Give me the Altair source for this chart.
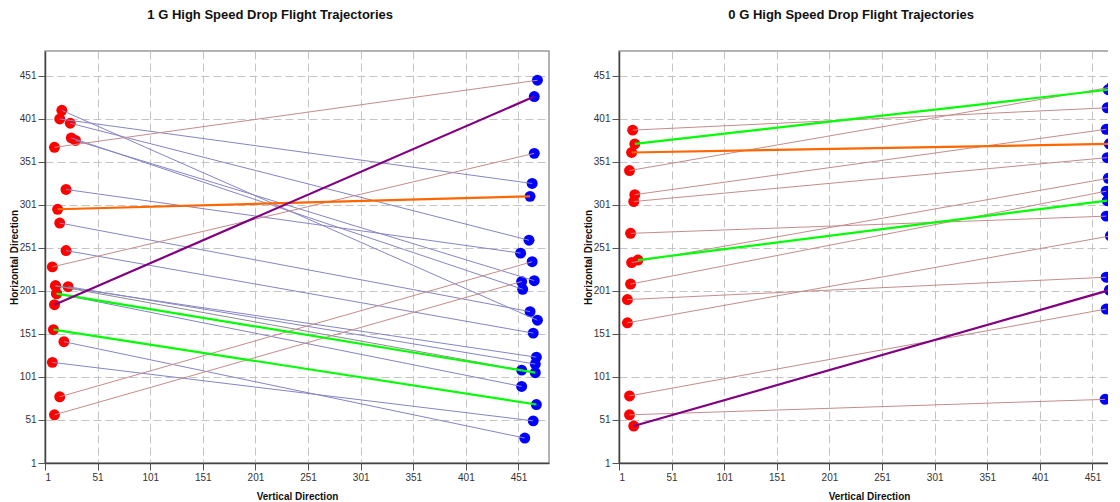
import altair as alt
import pandas as pd

# ---------- data: 1 G panel (start x/y, end x/y, line kind) ----------
g1_x0 = [17, 15, 25, 26, 30, 10, 21, 13, 15, 21, 8, 11, 23, 11, 12, 12, 10, 9, 19, 8, 15, 10]
g1_y0 = [411, 401, 396, 379, 376, 368, 319, 296, 280, 248, 229, 207, 206, 207, 198, 198, 185, 156, 142, 118, 78, 57]
g1_x1 = [469, 464, 461, 455, 466, 469, 453, 462, 462, 465, 466, 468, 467, 454, 467, 454, 466, 468, 457, 465, 464, 454]
g1_y1 = [167, 326, 260, 203, 213, 446, 245, 311, 177, 152, 361, 124, 116, 109, 106, 90, 427, 69, 30, 50, 235, 212]
g1_kind = ["down", "down", "down", "down", "down", "up", "down", "orange", "down", "down", "up",
           "down", "down", "gray", "green", "down", "purple", "green", "down", "down", "up", "up"]

# ---------- data: 0 G panel ----------
g0_x0 = [14, 16, 13, 11, 16, 15, 12, 19, 13, 12, 9, 9, 11, 11, 15]
g0_y0 = [388, 372, 362, 341, 313, 305, 268, 237, 234, 209, 191, 164, 79, 57, 44]
g0_x1 = [465, 466, 467, 469, 464, 465, 464, 465, 466, 464, 464, 468, 464, 463, 467]
g0_y1 = [414, 435, 372, 438, 389, 356, 288, 306, 332, 317, 217, 265, 180, 75, 202]
g0_kind = ["up", "green", "orange", "up", "up", "up", "up", "green", "up", "up", "up", "up", "up", "up", "purple"]

tick_vals = [1, 51, 101, 151, 201, 251, 301, 351, 401, 451]
kind_domain = ["down", "up", "gray", "green", "orange", "purple"]
kind_colors = ["#8585c4", "#c48c8c", "#8c8c8c", "#00ff00", "#ff6600", "#800080"]

PLOT_H = 412
PX_PER_UNIT = 504 / 479.0


def panel(title, title_dx, width, x0, y0, x1, y1, kind):
    df = pd.DataFrame({"x0": x0, "y0": y0, "x1": x1, "y1": y1, "kind": kind})
    xmax = 1 + width / PX_PER_UNIT
    xs = alt.Scale(domain=[1, xmax], nice=False, zero=False)
    ys = alt.Scale(domain=[1, 480], nice=False, zero=False)
    xax = alt.Axis(values=tick_vals, title="Vertical Direction")
    yax = alt.Axis(values=tick_vals, title="Horizontal Direction")
    color = alt.Color("kind:N", scale=alt.Scale(domain=kind_domain, range=kind_colors), legend=None)
    base = alt.Chart(df)
    starts = base.mark_circle(size=120, color="#ff0000", opacity=1, clip=True).encode(
        x=alt.X("x0:Q", scale=xs, axis=xax), y=alt.Y("y0:Q", scale=ys, axis=yax))
    ends = base.mark_circle(size=120, color="#0000ff", opacity=1, clip=True).encode(
        x=alt.X("x1:Q", scale=xs, axis=xax), y=alt.Y("y1:Q", scale=ys, axis=yax))
    thin = base.transform_filter(
        alt.FieldOneOfPredicate(field="kind", oneOf=["down", "up", "gray"])
    ).mark_rule(strokeWidth=1, clip=True).encode(
        x=alt.X("x0:Q", scale=xs, axis=xax), y=alt.Y("y0:Q", scale=ys, axis=yax),
        x2="x1:Q", y2="y1:Q", color=color)
    thick = base.transform_filter(
        alt.FieldOneOfPredicate(field="kind", oneOf=["green", "orange", "purple"])
    ).mark_rule(strokeWidth=2.2, clip=True).encode(
        x=alt.X("x0:Q", scale=xs, axis=xax), y=alt.Y("y0:Q", scale=ys, axis=yax),
        x2="x1:Q", y2="y1:Q", color=color)
    return alt.layer(starts, ends, thin, thick).properties(
        width=width, height=PLOT_H,
        title=alt.TitleParams(title, dx=title_dx, frame="bounds"))


p1 = panel("1 G High Speed Drop Flight Trajectories", -9, 504, g1_x0, g1_y0, g1_x1, g1_y1, g1_kind)
p2 = panel("0 G High Speed Drop Flight Trajectories", 0, 500, g0_x0, g0_y0, g0_x1, g0_y1, g0_kind)

chart = alt.hconcat(p1, p2, spacing=32).properties(
    padding={"top": -1, "left": 0, "right": -12, "bottom": 0}
).configure_axis(
    labelFont="Liberation Sans", labelFontSize=10, labelColor="#333333",
    titleFont="Liberation Sans", titleFontSize=10, titleFontWeight="bold", titleColor="#111111",
    gridColor="#c4c4c4", gridDash=[8, 4], gridWidth=1,
    domainColor="#444444", domainWidth=1.5, tickColor="#555555", tickSize=7, labelPadding=2,
).configure_axisX(titlePadding=9).configure_axisY(titlePadding=0).configure_view(
    stroke="#9a9a9a", strokeWidth=1.5
).configure_title(
    font="Liberation Sans", fontSize=13, fontWeight="bold", color="#111111", offset=29.5, anchor="middle"
)

chart.save("out.html", embed_options={"renderer": "svg", "actions": False})
